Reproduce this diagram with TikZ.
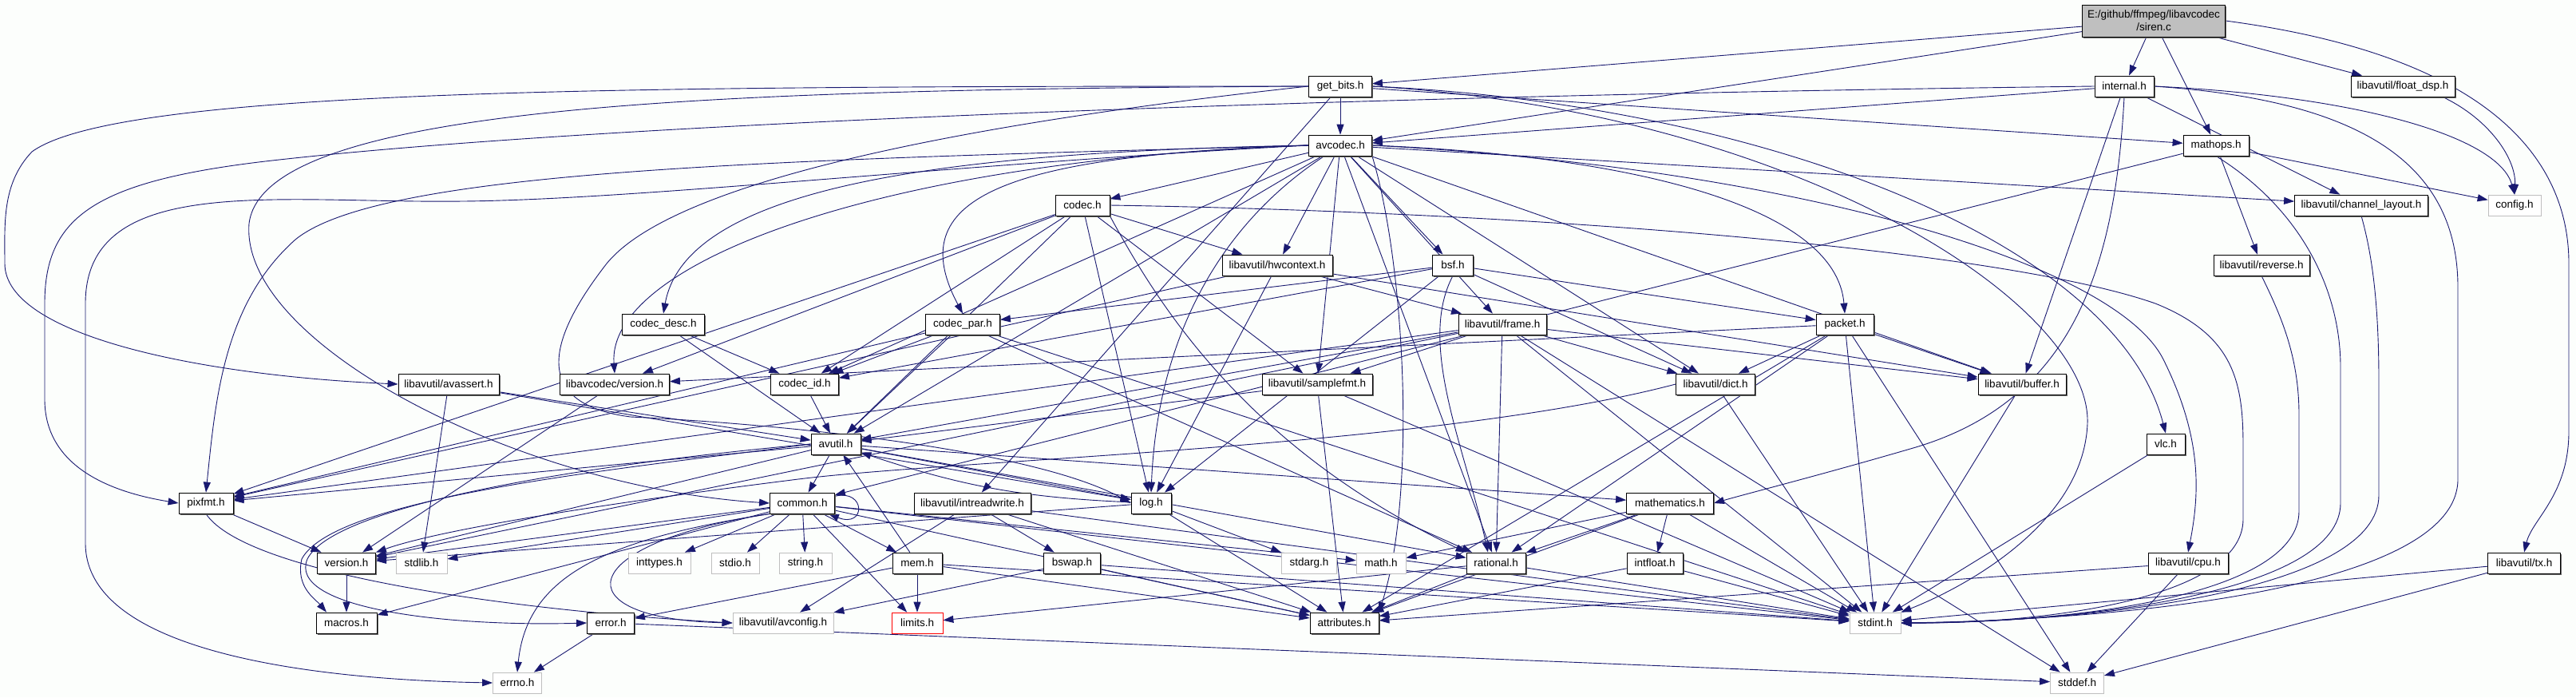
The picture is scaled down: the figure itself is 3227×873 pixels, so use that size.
\documentclass[tikz,border=0pt]{standalone}
\usepackage{fontspec}
\setmainfont{Liberation Sans}
\usetikzlibrary{arrows.meta,shadows}
\definecolor{edgecol}{HTML}{191970}
\definecolor{bgcol}{RGB}{252,254,252}
\definecolor{sysgray}{HTML}{BFBFBF}
\pgfdeclarelayer{bg}
\pgfsetlayers{bg,main}
\tikzset{
  boxbase/.style={line width=0.8pt, fill=white, minimum height=26pt, inner sep=0pt,
    font=\fontsize{13.5}{16}\selectfont},
  hbox/.style={boxbase, draw=black,
    drop shadow={shadow xshift=1.5pt,shadow yshift=-1.5pt,fill=black!60,opacity=1}},
  sysbox/.style={boxbase, draw=sysgray},
  redbox/.style={boxbase, draw=red},
  e/.style={draw=edgecol, line width=0.9pt, -{Triangle[length=13pt,width=9pt]}}
}
\begin{document}
\begin{tikzpicture}[x=1pt,y=-1pt]
\useasboundingbox (0,0) rectangle (3227,873);
% ---------------- nodes ----------------
\node[hbox, fill=sysgray, minimum width=179pt, minimum height=40pt, align=center] (siren) at (2698,26) {E:/github/ffmpeg/libavcodec\\/siren.c};
\node[hbox, minimum width=79pt] (getbits) at (1679,108) {get\_bits.h};
\node[hbox, minimum width=74pt] (internal) at (2661,108) {internal.h};
\node[hbox, minimum width=130pt] (floatdsp) at (3010,108) {libavutil/float\_dsp.h};
\node[hbox, minimum width=79pt] (avcodec) at (1679,182) {avcodec.h};
\node[hbox, minimum width=82pt] (mathops) at (2776,182) {mathops.h};
\node[hbox, minimum width=68pt] (codec) at (1356,257) {codec.h};
\node[hbox, minimum width=167pt] (chlayout) at (2958,257) {libavutil/channel\_layout.h};
\node[sysbox, minimum width=66pt] (config) at (3150,257) {config.h};
\node[hbox, minimum width=138pt] (hwcontext) at (1600,332) {libavutil/hwcontext.h};
\node[hbox, minimum width=51pt] (bsf) at (1820,332) {bsf.h};
\node[hbox, minimum width=120pt] (reverse) at (2833,332) {libavutil/reverse.h};
\node[hbox, minimum width=103pt] (codecdesc) at (831,406) {codec\_desc.h};
\node[hbox, minimum width=93pt] (codecpar) at (1206,406) {codec\_par.h};
\node[hbox, minimum width=110pt] (frame) at (1882,406) {libavutil/frame.h};
\node[hbox, minimum width=72pt] (packet) at (2311,406) {packet.h};
\node[hbox, minimum width=126pt] (avassert) at (562,481) {libavutil/avassert.h};
\node[hbox, minimum width=137pt] (lavcversion) at (770,481) {libavcodec/version.h};
\node[hbox, minimum width=85pt] (codecid) at (1008,481) {codec\_id.h};
\node[hbox, minimum width=138pt] (samplefmt) at (1650,481) {libavutil/samplefmt.h};
\node[hbox, minimum width=99pt] (dict) at (2149,481) {libavutil/dict.h};
\node[hbox, minimum width=110pt] (buffer) at (2533,481) {libavutil/buffer.h};
\node[hbox, minimum width=62pt] (avutil) at (1047,556) {avutil.h};
\node[hbox, minimum width=48pt] (vlc) at (2713,556) {vlc.h};
\node[hbox, minimum width=68pt] (pixfmt) at (258,630) {pixfmt.h};
\node[hbox, minimum width=81pt] (common) at (1005,630) {common.h};
\node[hbox, minimum width=146pt] (intreadwrite) at (1218,630) {libavutil/intreadwrite.h};
\node[hbox, minimum width=50pt] (log) at (1442,630) {log.h};
\node[hbox, minimum width=109pt] (mathematics) at (2092,630) {mathematics.h};
\node[hbox, minimum width=73pt] (version) at (434,705) {version.h};
\node[sysbox, minimum width=64pt] (stdlib) at (528,705) {stdlib.h};
\node[sysbox, minimum width=78pt] (inttypes) at (826,705) {inttypes.h};
\node[sysbox, minimum width=60pt] (stdio) at (921,705) {stdio.h};
\node[sysbox, minimum width=66pt] (string) at (1009,705) {string.h};
\node[hbox, minimum width=62pt] (mem) at (1149,705) {mem.h};
\node[hbox, minimum width=71pt] (bswap) at (1343,705) {bswap.h};
\node[sysbox, minimum width=69pt] (stdarg) at (1640,705) {stdarg.h};
\node[sysbox, minimum width=62pt] (math) at (1730,705) {math.h};
\node[hbox, minimum width=74pt] (rational) at (1874,705) {rational.h};
\node[hbox, minimum width=70pt] (intfloat) at (2073,705) {intfloat.h};
\node[hbox, minimum width=100pt] (cpu) at (2741,705) {libavutil/cpu.h};
\node[hbox, minimum width=91pt] (tx) at (3162,705) {libavutil/tx.h};
\node[hbox, minimum width=76pt] (macros) at (434,780) {macros.h};
\node[hbox, minimum width=59pt] (error) at (765,780) {error.h};
\node[sysbox, minimum width=126pt] (avconfig) at (981,780) {libavutil/avconfig.h};
\node[redbox, minimum width=64pt] (limits) at (1149,780) {limits.h};
\node[hbox, minimum width=86pt] (attributes) at (1684,780) {attributes.h};
\node[sysbox, minimum width=64pt] (stdint) at (2349,780) {stdint.h};
\node[sysbox, minimum width=61pt] (errno) at (648,855) {errno.h};
\node[sysbox, minimum width=67pt] (stddef) at (2602,855) {stddef.h};
% ---------------- edges ----------------
\begin{pgfonlayer}{bg}
\fill[bgcol] (0,0) rectangle (3227,873);
% siren.c
\draw[e] (siren) -- (getbits);
\draw[e] (siren) -- (avcodec);
\draw[e] (siren) -- (internal);
\draw[e] (siren) -- (mathops);
\draw[e] (siren) -- (floatdsp);
\draw[e] (siren.east) .. controls (3120,70) and (3218,200) .. (3218,330) -- (3218,540) .. controls (3218,620) and (3172,650) .. (tx.north);
% get_bits.h
\draw[e] (getbits) -- (avcodec);
\draw[e] (getbits) -- (mathops);
\draw[e] (getbits) -- (intreadwrite);
\draw[e] (getbits.west) .. controls (1250,150) and (850,220) .. (760,330) .. controls (690,420) and (660,505) .. (790,522) .. controls (1000,532) and (1300,565) .. (log.west);
\draw[e] (getbits.east) .. controls (2200,130) and (2650,300) .. (vlc.north);
\draw[e] (getbits.east) .. controls (2250,140) and (2620,380) .. (2615,530) .. controls (2610,660) and (2450,740) .. (stdint.north east);
\draw[e] (getbits.west) .. controls (900,112) and (330,130) .. (312,280) .. controls (300,430) and (650,610) .. (common.west);
\draw[e] (getbits.west) .. controls (800,108) and (150,110) .. (40,190) .. controls (2,230) and (6,280) .. (6,330) .. controls (6,420) and (250,470) .. (avassert.west);
% internal.h
\draw[e] (internal) -- (avcodec);
\draw[e] (internal) -- (buffer);
\draw[e] (internal) -- (chlayout);
\draw[e] (internal.west) .. controls (1800,118) and (800,150) .. (350,200) .. controls (120,225) and (56,270) .. (56,380) -- (56,500) .. controls (56,590) and (150,618) .. (pixfmt.west);
\draw[e] (internal.south) .. controls (2650,330) and (2600,500) .. (2400,560) .. controls (2280,595) and (2200,615) .. (mathematics.east);
\draw[e] (internal.east) .. controls (2950,120) and (3130,170) .. (config.north);
\draw[e] (internal.east) .. controls (2950,125) and (3079,200) .. (3079,360) -- (3079,600) .. controls (3079,730) and (2700,775) .. (stdint.east);
% float_dsp.h
\draw[e] ([xshift=50pt]floatdsp.south) .. controls (3120,150) and (3152,200) .. (config.north);
% avcodec.h
\draw[e] (avcodec) -- (samplefmt);
\draw[e] (avcodec) -- (avutil);
\draw[e] (avcodec) -- (buffer);
\draw[e] (avcodec) -- (chlayout);
\draw[e] (avcodec) -- (dict);
\draw[e] (avcodec) -- (frame);
\draw[e] (avcodec) -- (hwcontext);
\draw[e] ([xshift=-20pt]avcodec.south) .. controls (1530,280) and (1450,420) .. (log.north);
\draw[e] (avcodec) -- (rational);
\draw[e] (avcodec) -- (bsf);
\draw[e] (avcodec) -- (codec);
\draw[e] (avcodec) -- (codecid);
\draw[e] (avcodec.west) .. controls (1200,190) and (860,230) .. (codecdesc.north);
\draw[e] (avcodec.west) .. controls (1250,195) and (1130,250) .. (codecpar.north);
\draw[e] (avcodec.west) .. controls (1100,200) and (760,330) .. (lavcversion.north);
\draw[e] (avcodec.west) .. controls (1000,200) and (480,210) .. (370,300) .. controls (280,380) and (270,500) .. (pixfmt.north);
\draw[e] (avcodec.west) .. controls (1200,205) and (800,250) .. (580,252) .. controls (350,255) and (107,215) .. (107,380) -- (107,680) .. controls (107,830) and (450,852) .. (errno.west);
\draw[e] (avcodec.south east) .. controls (1760,330) and (1775,620) .. (attributes.north east);
\draw[e] (avcodec.east) .. controls (2050,195) and (2300,260) .. (packet.north);
\draw[e] (avcodec.east) .. controls (2250,210) and (2650,330) .. (2710,450) .. controls (2760,550) and (2755,620) .. (cpu.north);
% mathops.h
\draw[e] (mathops) -- (reverse);
\draw[e] (mathops) -- (common);
\draw[e] (mathops) -- (config);
\draw[e] (mathops.south) .. controls (2880,260) and (2932,360) .. (2932,460) -- (2932,630) .. controls (2932,740) and (2620,779) .. (stdint.east);
% codec.h
\draw[e] (codec) -- (avutil);
\draw[e] (codec) -- (hwcontext);
\draw[e] (codec) -- (log);
\draw[e] (codec) -- (pixfmt);
\draw[e] (codec.south east) .. controls (1450,380) and (1560,560) .. (rational.north west);
\draw[e] (codec) -- (samplefmt);
\draw[e] (codec) -- (codecid);
\draw[e] (codec) -- (lavcversion);
\draw[e] (codec.east) .. controls (1900,265) and (2500,310) .. (2700,380) .. controls (2800,420) and (2810,480) .. (2810,560) -- (2810,650) .. controls (2810,750) and (2560,781) .. (stdint.east);
% channel_layout.h, reverse.h
\draw[e] (chlayout.south) .. controls (2975,330) and (2980,400) .. (2980,480) -- (2980,620) .. controls (2980,735) and (2650,778) .. (stdint.east);
\draw[e] (reverse.south) .. controls (2860,400) and (2880,450) .. (2880,520) -- (2880,640) .. controls (2880,745) and (2600,780) .. (stdint.east);
% hwcontext.h
\draw[e] (hwcontext) -- (buffer);
\draw[e] (hwcontext) -- (frame);
\draw[e] (hwcontext) -- (log);
\draw[e] (hwcontext) -- (pixfmt);
% bsf.h
\draw[e] (bsf) -- (dict);
\draw[e] (bsf) -- (log);
\draw[e] (bsf.south) .. controls (1775,430) and (1835,560) .. ([xshift=-10pt]rational.north);
\draw[e] (bsf) -- (codecid);
\draw[e] (bsf) -- (codecpar);
\draw[e] (bsf) -- (packet);
% codec_desc.h, codec_par.h
\draw[e] (codecdesc) -- (avutil);
\draw[e] (codecdesc) -- (codecid);
\draw[e] (codecpar) -- (stdint);
\draw[e] (codecpar) -- (avutil);
\draw[e] (codecpar) -- (rational);
\draw[e] (codecpar) -- (pixfmt);
\draw[e] (codecpar) -- (codecid);
% frame.h
\draw[e] (frame) -- (stddef);
\draw[e] (frame) -- (stdint);
\draw[e] (frame) -- (avutil);
\draw[e] (frame) -- (buffer);
\draw[e] (frame) -- (dict);
\draw[e] (frame) -- (rational);
\draw[e] (frame) -- (samplefmt);
\draw[e] (frame) -- (pixfmt);
\draw[e] (frame) -- (version);
% packet.h
\draw[e] (packet) -- (stddef);
\draw[e] (packet) -- (stdint);
\draw[e] (packet) -- (attributes);
\draw[e] (packet) -- (buffer);
\draw[e] (packet) -- (dict);
\draw[e] (packet) -- (rational);
\draw[e] (packet) -- (lavcversion);
% avassert.h, libavcodec/version.h, codec_id.h
\draw[e] (avassert) -- (stdlib);
\draw[e] (avassert) -- (avutil);
\draw[e] (avassert) -- (log);
\draw[e] (lavcversion) -- (version);
\draw[e] (codecid) -- (avutil);
% samplefmt.h, dict.h, buffer.h, vlc.h
\draw[e] (samplefmt) -- (stdint);
\draw[e] (samplefmt) -- (avutil);
\draw[e] (samplefmt) -- (attributes);
\draw[e] (dict) -- (stdint);
\draw[e] (dict.west) .. controls (1800,560) and (1200,575) .. (1000,600) .. controls (800,625) and (560,660) .. (version.north east);
\draw[e] (buffer) -- (stdint);
\draw[e] (vlc) -- (stdint);
% avutil.h
\draw[e] (avutil) -- (common);
\draw[e] (avutil) -- (rational);
\draw[e] (avutil) -- (version);
\draw[e] (avutil) -- (mathematics);
\draw[e] (avutil) -- (log);
\draw[e] (avutil) -- (pixfmt);
\draw[e] (avutil.west) .. controls (750,580) and (420,630) .. (385,700) .. controls (360,760) and (550,785) .. (error.west);
\draw[e] (avutil.west) .. controls (800,585) and (420,620) .. (378,700) .. controls (370,735) and (395,750) .. ([xshift=-25pt]macros.north);
% pixfmt.h
\draw[e] (pixfmt) -- (version);
\draw[e] (pixfmt.south) .. controls (310,720) and (650,765) .. (avconfig.west);
% common.h
\draw[e] (common) -- (inttypes);
\draw[e] (common) -- (limits);
\draw[e] (common) -- (math);
\draw[e] (common) -- (stdint);
\draw[e] (common) -- (stdio);
\draw[e] (common) -- (stdlib);
\draw[e] (common) -- (string);
\draw[e] (common) -- (attributes);
\draw[e] (common) -- (macros);
\draw[e] (common) -- (version);
\draw[e] (common) -- (mem);
\draw[e] (common.south west) .. controls (760,675) and (660,720) .. (errno.north);
\draw[e] (common.south west) .. controls (720,680) and (700,775) .. (avconfig.west);
\draw[e] (common.12) .. controls (1085,612) and (1085,662) .. ([xshift=-8pt]common.south east);
% intreadwrite.h
\draw[e] (intreadwrite) -- (stdint);
\draw[e] (intreadwrite) -- (avconfig);
\draw[e] (intreadwrite) -- (attributes);
\draw[e] (intreadwrite) -- (bswap);
% log.h
\draw[e] (log) -- (stdarg);
\draw[e] (log) to[bend left=8] (avutil);
\draw[e] (log) -- (attributes);
\draw[e] (log) -- (version);
% mathematics.h
\draw[e] (mathematics) -- (stdint);
\draw[e] (mathematics) -- (math);
\draw[e] (mathematics) -- (attributes);
\draw[e] (mathematics) -- (rational);
\draw[e] (mathematics) -- (intfloat);
% version.h, mem.h, bswap.h, rational.h, intfloat.h
\draw[e] (version) -- (macros);
\draw[e] (mem) -- (limits);
\draw[e] (mem) -- (stdint);
\draw[e] (mem) -- (attributes);
\draw[e] (mem) -- (error);
\draw[e] (mem) -- (avutil);
\draw[e] (bswap) -- (stdint);
\draw[e] (bswap) -- (avconfig);
\draw[e] (bswap) -- (attributes);
\draw[e] (rational) -- (stdint);
\draw[e] (rational) -- (limits);
\draw[e] (rational) -- (attributes);
\draw[e] (intfloat) -- (stdint);
\draw[e] (intfloat) -- (attributes);
% cpu.h, tx.h, error.h
\draw[e] (cpu) -- (stddef);
\draw[e] (cpu) -- (attributes);
\draw[e] (tx) -- (stdint);
\draw[e] (tx) -- (stddef);
\draw[e] (error) -- (errno);
\draw[e] (error) -- (stddef);
\end{pgfonlayer}
\end{tikzpicture}
\end{document}
